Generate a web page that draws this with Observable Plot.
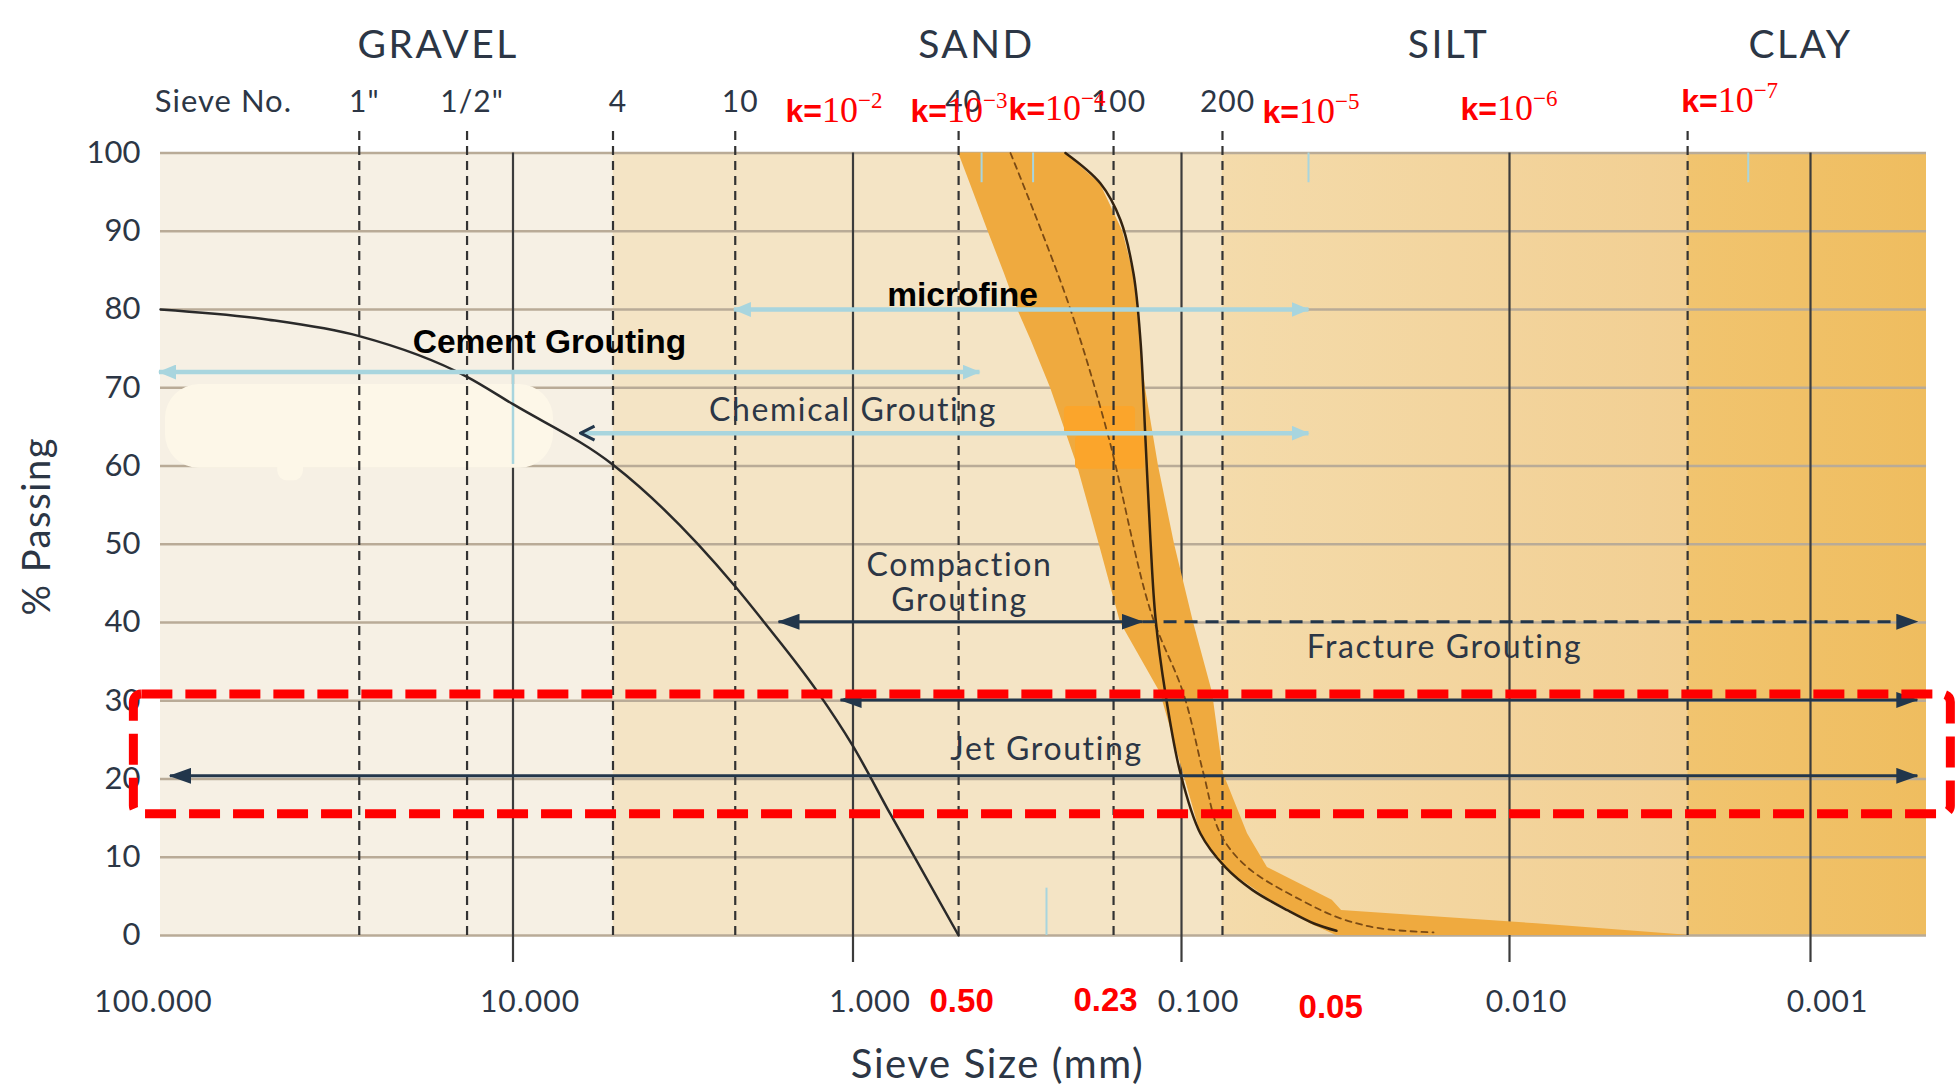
<!DOCTYPE html>
<html>
<head>
<meta charset="utf-8">
<script src="https://cdn.jsdelivr.net/npm/d3@7"></script>
<script src="https://cdn.jsdelivr.net/npm/@observablehq/plot@0.6"></script>
<style>
html,body{margin:0;padding:0;background:#fff;overflow:hidden;}
svg{display:block;}
</style>
</head>
<body>
<div id="chart"></div>
<script>
// ---------------- DATA ----------------
const xTicks = [100, 10, 1, 0.1, 0.01, 0.001];
const xTickLabels = ["100.000", "10.000", "1.000", "0.100", "0.010", "0.001"];
const decadeLines = [10, 1, 0.1, 0.01, 0.001];
const yTicks = [0, 10, 20, 30, 40, 50, 60, 70, 80, 90, 100];

const zoneNames = ["GRAVEL", "SAND", "SILT", "CLAY"];
const zoneBounds = [100, 5.08, 0.075, 0.00256, 0.00041];
const zoneLabelX = [16.3, 0.421, 0.01535, 0.00108];

const sieveLabels = ['1"', '1/2"', "4", "10", "40", "100", "200"];
const sieveSizes = [27.3, 13.5, 5.08, 2.22, 0.477, 0.161, 0.075];
const clayLimit = [0.00256];

// coarse (gravel) gradation curve
const gravelX = [100, 49.4, 27.3, 13.5, 10, 5.06, 2.22, 1.83, 1.274, 1.0, 0.769, 0.477];
const gravelY = [80, 78.7, 76.6, 71.4, 67.9, 60.1, 44.6, 40.1, 31.2, 24.2, 15.5, 0];

// fine sand band (for each % passing level: coarse edge / fine edge, mm)
const bandY      = [100, 96, 90, 84.6, 80, 76, 70, 60, 50, 40, 31, 20.7, 13, 8.7, 4.5, 3.2, 1.5, 0];
const bandCoarse = [0.477, 0.439, 0.388, 0.346, 0.3156, 0.2866, 0.2505, 0.2073, 0.178, 0.1534, 0.1159, 0.0986, 0.0875, 0.0745, 0.0536, 0.0466, 0.0405, 0.0337];
const bandFine   = [0.2256, 0.1764, 0.151, 0.140, 0.136, 0.1333, 0.1288, 0.1175, 0.105, 0.0919, 0.0804, 0.0745, 0.0629, 0.0547, 0.0347, 0.0325, 0.00813, 0.0025];

// solid fine curve
const fineX = [0.2256, 0.1764, 0.1533, 0.140, 0.1333, 0.1287, 0.1243, 0.12, 0.1119, 0.1007, 0.0875, 0.0734, 0.0607, 0.0474, 0.0393, 0.0337];
const fineY = [100, 96.1, 91.4, 84.6, 76.0, 63.3, 50.5, 40.6, 30.9, 20.7, 13.0, 8.7, 5.8, 3.2, 1.5, 0.6];
// dashed middle curve
const midX = [0.3316, 0.2223, 0.168, 0.1243, 0.0986, 0.0857, 0.0761, 0.0629, 0.0431, 0.0328, 0.0247, 0.01705];
const midY = [100, 81.1, 64.2, 41.5, 30.9, 20.7, 13.0, 8.7, 4.5, 2.2, 0.9, 0.4];

// grouting ranges
const arrowNames = ["Cement Grouting", "microfine", "Chemical Grouting", "Compaction\nGrouting", "Fracture Grouting", "", "Jet Grouting"];
const arrowFrom  = [101, 2.24, 6.33, 1.656, 0.1314, 1.088, 94];
const arrowTo    = [0.412, 0.041, 0.041, 0.1314, 0.00044, 0.00044, 0.00044];
const arrowLevel = [72.0, 80.0, 64.2, 40.1, 40.1, 30.1, 20.4];
const labelX     = [7.81, 0.464, 1.0, 0.474, 0.01578, null, 0.2576];
const labelY     = [74.4, 80.5, 65.8, 41.5, 35.4, null, 22.4];

// permeability labels
const kExponents = [-2, -3, -4, -5, -6, -7];
const kX = [1.58, 0.668, 0.336, 0.0566, 0.0141, 0.00269];
const kY = [103.9, 103.9, 104.2, 103.8, 104.2, 105.2];
const kTickX = [0.406, 0.283, 0.041, 0.00161];

// red size labels
const redLabels = ["0.50", "0.23", "0.05"];
const redX = [0.467, 0.1703, 0.0351];
const redY = [-9.84, -9.6, -10.5];

// ---------------- STYLE ----------------
const GS = "Lato, 'Open Sans', sans-serif";
const ARIAL = "'Liberation Sans', Arial, sans-serif";
const SERIF = "'Liberation Serif', 'Times New Roman', serif";
const TEXT = "#2c3645";
const LB = "#a8d5de";
const DARK = "#22364b";

const rows = (xs, ys) => xs.map((x, i) => ({x, y: ys[i]}));
const zones = zoneNames.map((name, i) => ({name, from: zoneBounds[i], to: zoneBounds[i + 1], lx: zoneLabelX[i]}));
const zoneFill = {GRAVEL: "#f6f0e4", SAND: "#f4e4c5", SILT: "url(#gSilt)", CLAY: "url(#gClay)"};
const band = bandY.map((y, i) => ({y, lo: bandCoarse[i], hi: bandFine[i]}));
const arrows = arrowNames.map((name, i) => ({name, from: arrowFrom[i], to: arrowTo[i], level: arrowLevel[i], lx: labelX[i], ly: labelY[i]}));
const sieves = sieveSizes.map((s, i) => ({s, label: sieveLabels[i]}));
const ticks = xTicks.map((v, i) => ({v, label: xTickLabels[i]}));
const kRows = kExponents.map((e, i) => ({e, x: kX[i], y: kY[i]}));
const reds = redLabels.map((t, i) => ({t, x: redX[i], y: redY[i]}));
const pick = (names) => arrows.filter(d => names.includes(d.name));
const tag = (name) => () => name;   // per-element aria-label used to find elements afterwards

const plot = Plot.plot({
  width: 1960,
  height: 1089,
  marginLeft: 160, marginRight: 34, marginTop: 152.5, marginBottom: 154,
  style: {background: "#ffffff", fontFamily: GS, color: TEXT},
  x: {type: "log", domain: [100, 10, 1, 0.1, 0.01, 0.001, 0.00041], range: [160, 512.5, 852.5, 1181, 1509, 1810, 1926], axis: null},
  y: {domain: [0, 100], range: [935, 152.5], axis: null},
  marks: [
    // soil zones
    ...zones.map(z => Plot.rect([z], {x1: "from", x2: "to", y1: () => 0, y2: () => 100, fill: zoneFill[z.name]})),
    // horizontal grid
    Plot.ruleY(yTicks, {x1: () => zoneBounds[0], x2: () => zoneBounds[4], stroke: "#b9ab97", strokeWidth: 2.5}),
    // decade lines
    Plot.ruleX(decadeLines, {y1: () => -3.45, y2: () => 100, stroke: "#3c3c3c", strokeWidth: 2.2}),
    // cover patch
    Plot.rect([0], {x1: () => 96.8, x2: () => 7.6, y1: () => 59.7, y2: () => 70.4, fill: "#fdf7e8", rx: 34}),
    Plot.rect([0], {x1: () => 46.5, x2: () => 39.3, y1: () => 58.1, y2: () => 61, fill: "#fdf7e8", rx: 10}),
    Plot.ruleX([10], {y1: () => 60.2, y2: () => 72, stroke: LB, strokeWidth: 2.5}),
    // band
    Plot.areaX(band, {y: "y", x1: "lo", x2: "hi", fill: "#efaa3f"}),
    Plot.rect([0], {x1: () => 0.2271, x2: () => 0.138, y1: () => 64.1, y2: () => 67.6, fill: "#fba52b", rx: 4}),
    Plot.rect([0], {x1: () => 0.2102, x2: () => 0.1294, y1: () => 59.6, y2: () => 63.8, fill: "#fba52b", rx: 4}),
    // sieve dashed lines
    Plot.ruleX(sieves, {x: "s", y1: () => 0, y2: () => 103.1, stroke: "#333", strokeWidth: 2.2, strokeDasharray: "9,6"}),
    Plot.ruleX(clayLimit, {y1: () => 0, y2: () => 103.1, stroke: "#333", strokeWidth: 2.2, strokeDasharray: "9,6"}),
    // curves
    Plot.line(rows(midX, midY), {x: "x", y: "y", stroke: "#7a4a14", strokeWidth: 1.8, strokeDasharray: "6,5", curve: "catmull-rom"}),
    Plot.line(rows(fineX, fineY), {x: "x", y: "y", stroke: "#33220f", strokeWidth: 2.5, curve: "catmull-rom"}),
    Plot.line(rows(gravelX, gravelY), {x: "x", y: "y", stroke: "#2a2a2a", strokeWidth: 2.5, curve: "monotone-x"}),
    // light blue ticks
    Plot.ruleX(kTickX, {y1: () => 96.2, y2: () => 100, stroke: LB, strokeWidth: 2}),
    Plot.ruleX([0.2576], {y1: () => 0, y2: () => 6.05, stroke: LB, strokeWidth: 2}),
    // arrows
    Plot.link(pick(["Cement Grouting", "microfine"]), {x1: "from", x2: "to", y1: "level", y2: "level", stroke: LB, strokeWidth: 4.5, ariaLabel: tag("arrow-lb")}),
    Plot.link(pick(["Chemical Grouting"]), {x1: "from", x2: "to", y1: "level", y2: "level", stroke: LB, strokeWidth: 4.5, ariaLabel: tag("arrow-chem")}),
    Plot.link(pick(["Compaction\nGrouting", "", "Jet Grouting"]), {x1: "from", x2: "to", y1: "level", y2: "level", stroke: DARK, strokeWidth: 3, ariaLabel: tag("arrow-dark")}),
    Plot.link(pick(["Fracture Grouting"]), {x1: "from", x2: "to", y1: "level", y2: "level", stroke: DARK, strokeWidth: 3, strokeDasharray: "13,8", ariaLabel: tag("arrow-frac")}),
    // arrow labels
    Plot.text(pick(["Cement Grouting", "microfine"]), {x: "lx", y: "ly", text: "name", lineAnchor: "bottom", fontFamily: ARIAL, fontWeight: "bold", fontSize: 33.5, fill: "#000"}),
    Plot.text(pick(["Chemical Grouting", "Compaction\nGrouting", "Fracture Grouting", "Jet Grouting"]), {x: "lx", y: "ly", text: "name", lineAnchor: "bottom", lineHeight: 1.1, fontSize: 32, fill: TEXT, ariaLabel: tag("ls-mid")}),
    // zone headers
    Plot.text(zones, {x: "lx", y: () => 112.2, text: "name", lineAnchor: "bottom", fontSize: 39, fill: TEXT, ariaLabel: tag("ls-head")}),
    // sieve row
    Plot.text(sieves, {x: "s", y: () => 105.2, text: "label", lineAnchor: "bottom", fontSize: 30, dx: 5, fill: TEXT, ariaLabel: tag("ls-small")}),
    Plot.text(["Sieve No."], {x: () => 66.3, y: () => 105.2, text: d => d, lineAnchor: "bottom", fontSize: 31, fill: TEXT, ariaLabel: tag("ls-small")}),
    // k labels
    Plot.text(kRows, {x: "x", y: "y", text: d => "k=10^" + d.e, textAnchor: "start", lineAnchor: "bottom", fill: "#ff0000", ariaLabel: tag("k-label")}),
    // y tick labels
    Plot.text(yTicks, {x: () => zoneBounds[0], y: d => d, text: d => String(d), textAnchor: "end", dx: -20, fontSize: 31, fill: TEXT}),
    // x tick labels
    Plot.text(ticks.slice(0, 1), {x: "v", y: () => -9.84, text: "label", lineAnchor: "bottom", dx: -7, fontSize: 30, fill: TEXT, ariaLabel: tag("ls-small")}),
    Plot.text(ticks.slice(1), {x: "v", y: () => -9.84, text: "label", lineAnchor: "bottom", dx: 17, fontSize: 30, fill: TEXT, ariaLabel: tag("ls-small")}),
    // red labels
    Plot.text(reds, {x: "x", y: "y", text: "t", lineAnchor: "bottom", fontFamily: ARIAL, fontWeight: "bold", fontSize: 33, fill: "#ff0000"}),
    // axis titles
    Plot.text(["Sieve Size (mm)"], {x: () => 0.363, y: () => -18.15, text: d => d, lineAnchor: "bottom", fontSize: 40, fill: TEXT, ariaLabel: tag("ls-mid")}),
    Plot.text(["% Passing"], {x: () => 223, y: () => 52.3, text: d => d, rotate: -90, fontSize: 38, fill: TEXT, ariaLabel: tag("ls-mid")}),
    // red dashed highlight box
    Plot.rect([0], {x1: () => 119, x2: () => 0.00034, y1: () => 15.5, y2: () => 30.8, fill: "none", stroke: "#ff0000", strokeWidth: 9, strokeDasharray: "31,13", rx: 8})
  ]
});

document.getElementById("chart").appendChild(plot);

// ---------------- post-processing: gradients, arrowheads, mixed-font labels ----------------
const svgNode = plot.tagName.toLowerCase() === "svg" ? plot : plot.querySelector("svg");
const svg = d3.select(svgNode);
const defs = svg.insert("defs", ":first-child");
function grad(id, a, b) {
  const g = defs.append("linearGradient").attr("id", id).attr("x1", 0).attr("x2", 1).attr("y1", 0).attr("y2", 0);
  g.append("stop").attr("offset", 0).attr("stop-color", a);
  g.append("stop").attr("offset", 1).attr("stop-color", b);
}
grad("gSilt", "#f4dbab", "#f2cf92");
grad("gClay", "#f1c46f", "#efbd5f");

function head(id, color, L, W) {
  defs.append("marker").attr("id", id).attr("viewBox", `0 0 ${L} ${W}`).attr("refX", L - 1).attr("refY", W / 2)
    .attr("markerWidth", L).attr("markerHeight", W).attr("markerUnits", "userSpaceOnUse").attr("orient", "auto-start-reverse")
    .append("path").attr("d", `M0,0L${L},${W / 2}L0,${W}Z`).attr("fill", color);
}
head("mLB", LB, 18, 15);
head("mDark", DARK, 22, 16);
defs.append("marker").attr("id", "mChev").attr("viewBox", "0 0 18 18").attr("refX", 16).attr("refY", 9)
  .attr("markerWidth", 18).attr("markerHeight", 18).attr("markerUnits", "userSpaceOnUse").attr("orient", "auto-start-reverse")
  .append("path").attr("d", "M2,2L16,9L2,16").attr("fill", "none").attr("stroke", DARK).attr("stroke-width", 3);

svg.selectAll('[aria-label="arrow-lb"]').attr("marker-start", "url(#mLB)").attr("marker-end", "url(#mLB)");
svg.selectAll('[aria-label="arrow-chem"]').attr("marker-start", "url(#mChev)").attr("marker-end", "url(#mLB)");
svg.selectAll('[aria-label="arrow-dark"]').attr("marker-start", "url(#mDark)").attr("marker-end", "url(#mDark)");
svg.selectAll('[aria-label="arrow-frac"]').attr("marker-end", "url(#mDark)");

svg.selectAll("text").each(function () {
  const s = this.textContent || "";
  if (!s.startsWith("k=10^")) return;
  const exp = s.split("^")[1];
  const t = d3.select(this);
  t.text(null);
  t.append("tspan").attr("font-family", ARIAL).attr("font-weight", "bold").attr("font-size", 32).text("k=");
  t.append("tspan").attr("font-family", SERIF).attr("font-size", 36).text("10");
  t.append("tspan").attr("font-family", SERIF).attr("font-size", 23).attr("dy", -14).text("\u2212" + Math.abs(+exp));
});

svg.selectAll('[aria-label="ls-head"]').style("letter-spacing", "2.5px");
svg.selectAll('[aria-label="ls-mid"]').style("letter-spacing", "1.6px");
svg.selectAll('[aria-label="ls-small"]').style("letter-spacing", "1px");
</script>
</body>
</html>
